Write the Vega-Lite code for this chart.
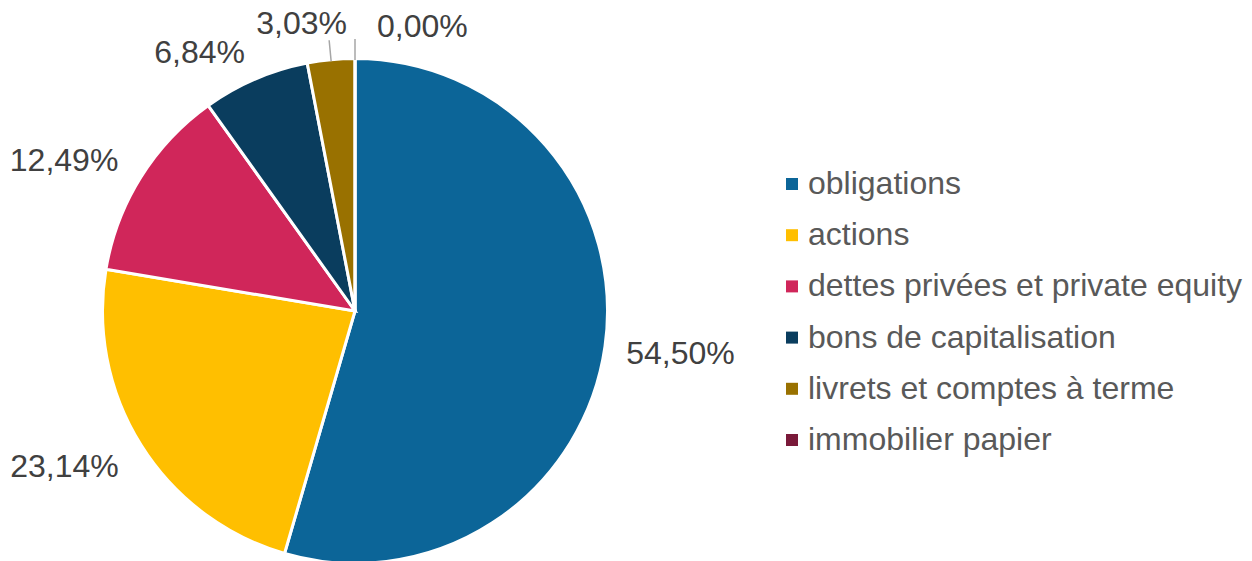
{
  "$schema": "https://vega.github.io/schema/vega-lite/v6.json",
  "width": 710,
  "height": 622,
  "autosize": {"type": "none"},
  "padding": {"left": 0, "top": 0, "right": 542, "bottom": 0},
  "background": "white",
  "config": {"view": {"stroke": null}, "font": "Liberation Sans"},
  "data": {
    "values": [
      {"cat": "obligations", "v": 54.50, "pct": "54,50%", "idx": 1},
      {"cat": "actions", "v": 23.14, "pct": "23,14%", "idx": 2},
      {"cat": "dettes privées et private equity", "v": 12.49, "pct": "12,49%", "idx": 3},
      {"cat": "bons de capitalisation", "v": 6.84, "pct": "6,84%", "idx": 4},
      {"cat": "livrets et comptes à terme", "v": 3.03, "pct": "3,03%", "idx": 5},
      {"cat": "immobilier papier", "v": 0.00, "pct": "0,00%", "idx": 6}
    ]
  },
  "encoding": {
    "theta": {"field": "v", "type": "quantitative", "stack": true},
    "order": {"field": "idx", "type": "quantitative"}
  },
  "layer": [
    {
      "mark": {"type": "arc", "radius": 252.5, "stroke": "white", "strokeWidth": 3},
      "encoding": {
        "color": {
          "field": "cat",
          "type": "nominal",
          "scale": {
            "domain": ["obligations", "actions", "dettes privées et private equity", "bons de capitalisation", "livrets et comptes à terme", "immobilier papier"],
            "range": ["#0C6598", "#FFBF00", "#D0265A", "#0A3D5E", "#997100", "#7A1A3A"]
          },
          "legend": {
            "title": null,
            "orient": "none",
            "legendX": 776,
            "legendY": 168,
            "symbolType": "square",
            "symbolSize": 144,
            "symbolStrokeWidth": 0,
            "labelFontSize": 32,
            "labelColor": "#595959",
            "labelFont": "Liberation Sans",
            "labelOffset": 0,
            "rowPadding": 19.2,
            "padding": 0,
            "labelLimit": 0
          }
        }
      }
    },
    {
      "mark": {"type": "arc", "radius": 272, "radius2": 251, "padAngle": 1, "fill": "transparent", "stroke": "#A6A6A6", "strokeWidth": 1.5},
      "encoding": {
        "strokeOpacity": {"condition": {"test": "datum.idx >= 5", "value": 1}, "value": 0}
      }
    },
    {
      "mark": {"type": "text", "radius": 274, "align": "left", "baseline": "middle", "dy": 4, "fontSize": 32, "fill": "#404040"},
      "encoding": {"text": {"condition": {"test": "datum.idx == 1", "field": "pct", "type": "nominal"}, "value": ""}}
    },
    {
      "mark": {"type": "text", "radius": 279, "align": "right", "baseline": "middle", "dy": 8, "fontSize": 32, "fill": "#404040"},
      "encoding": {"text": {"condition": {"test": "datum.idx == 2", "field": "pct", "type": "nominal"}, "value": ""}}
    },
    {
      "mark": {"type": "text", "radius": 279, "align": "right", "baseline": "middle", "dy": -2, "fontSize": 32, "fill": "#404040"},
      "encoding": {"text": {"condition": {"test": "datum.idx == 3 || datum.idx == 4", "field": "pct", "type": "nominal"}, "value": ""}}
    },
    {
      "mark": {"type": "text", "radius": 288, "align": "center", "baseline": "middle", "dx": -26, "fontSize": 32, "fill": "#404040"},
      "encoding": {"text": {"condition": {"test": "datum.idx == 5", "field": "pct", "type": "nominal"}, "value": ""}}
    },
    {
      "mark": {"type": "text", "radius": 284, "align": "left", "baseline": "middle", "dx": 22, "fontSize": 32, "fill": "#404040"},
      "encoding": {"text": {"condition": {"test": "datum.idx == 6", "field": "pct", "type": "nominal"}, "value": ""}}
    }
  ]
}
